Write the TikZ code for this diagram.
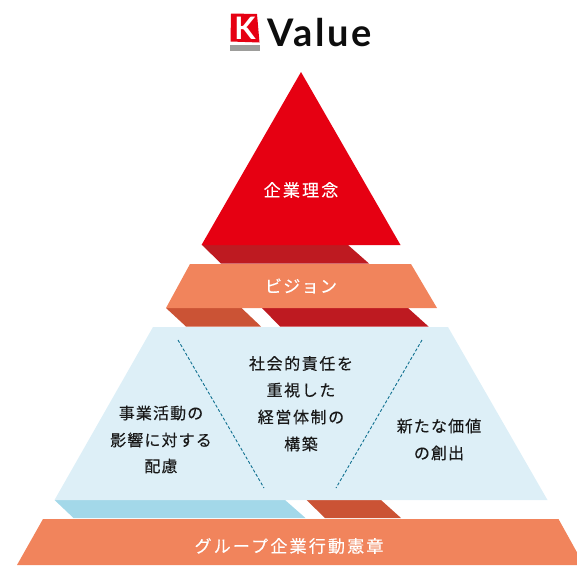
\documentclass[tikz,border=0pt]{standalone}
\usepackage{fontspec}
\setmainfont{Noto Sans CJK JP}
\newfontfamily\latinf{Lato}
\newcommand{\jpA}{\fontsize{16}{16}\selectfont\addfontfeature{LetterSpace=7,FakeBold=0.25}}
\newcommand{\jpM}{\fontsize{16}{16}\selectfont\addfontfeature{LetterSpace=10,FakeBold=0.25}}
\newcommand{\jpB}{\fontsize{17}{17}\selectfont\addfontfeature{LetterSpace=13,FakeBold=0.25}}
\newcommand{\jpV}{\fontsize{17}{17}\selectfont\addfontfeature{LetterSpace=8,FakeBold=0.25}}
\definecolor{kred}{HTML}{E60012}
\definecolor{kdark}{HTML}{BE1A21}
\definecolor{kor}{HTML}{F1845C}
\definecolor{kordark}{HTML}{CB5335}
\definecolor{kpale}{HTML}{DDEFF7}
\definecolor{kblue}{HTML}{A3D8E9}
\definecolor{kline}{HTML}{0F7090}
\definecolor{kgray}{HTML}{9D9D9B}
\tikzset{
  wlabel/.style={text=white,font=\jpB,inner sep=0pt,anchor=center},
  blabel/.style={text=black!90,font=\jpA,inner sep=0pt,anchor=center},
  divider/.style={kline,line width=0.9pt,dash pattern=on 3pt off 2pt}
}
\begin{document}
\begin{tikzpicture}[x=1pt,y=-1pt]
\useasboundingbox (0,0) rectangle (577,565);
% logo
\fill[kred] (231,13.5) -- (257,14) -- (259.5,42.5) -- (230.5,41.5) -- cycle;
\fill[kgray] (230,44.5) rectangle (260,50.5);
\node[text=white,font=\latinf\bfseries\fontsize{31}{31}\selectfont,inner sep=0pt] (logok) at (245,28.5) {K};
\node[text=black!95,font=\latinf\bfseries\fontsize{38}{38}\selectfont\addfontfeature{LetterSpace=7},inner sep=0pt,anchor=west] (value) at (267,33) {Value};
% shadows
\fill[kdark] (202,245) -- (348,245) -- (369,263.5) -- (221,263.5) -- cycle;
\fill[kordark] (166,308) -- (241.5,308) -- (261,326.5) -- (186,326.5) -- cycle;
\fill[kdark] (262,308) -- (408,308) -- (428.5,326.5) -- (280,326.5) -- cycle;
\fill[kblue] (54.5,500) -- (285,500) -- (305.5,518) -- (73.5,518) -- cycle;
\fill[kordark] (306.5,500) -- (381,500) -- (401,518) -- (325,518) -- cycle;
% tiers
\fill[kred] (301,72) -- (400.5,245) -- (201.5,245) -- cycle;
\fill[kor] (190,264) -- (411,264) -- (437,308) -- (166,308) -- cycle;
\fill[kpale] (153,327) -- (448,327) -- (547.5,500) -- (54.5,500) -- cycle;
\fill[kor] (43,519) -- (558.5,519) -- (584,565) -- (17,565) -- cycle;
% dividers
\coordinate (la) at (178,340); \coordinate (lb) at (264,488);
\coordinate (ra) at (422,340); \coordinate (rb) at (336,488);
\draw[divider] (la) -- (lb);
\draw[divider] (ra) -- (rb);
% labels
\node[wlabel] (t1) at (301,190) {企業理念};
\node[wlabel,font=\jpV] (t2) at (301,286) {ビジョン};
\node[wlabel] (t3) at (289,546) {グループ企業行動憲章};
\node[blabel,font=\jpM] (m1) at (301,363.5) {社会的責任を};
\node[blabel,font=\jpM] (m2) at (301,390) {重視した};
\node[blabel,font=\jpM] (m3) at (301,417) {経営体制の};
\node[blabel,font=\jpM] (m4) at (301,444) {構築};
\node[blabel] (l1) at (161,413) {事業活動の};
\node[blabel] (l2) at (161,440) {影響に対する};
\node[blabel] (l3) at (161,466) {配慮};
\node[blabel] (r1) at (439,426) {新たな価値};
\node[blabel] (r2) at (439,453) {の創出};
\end{tikzpicture}
\end{document}
